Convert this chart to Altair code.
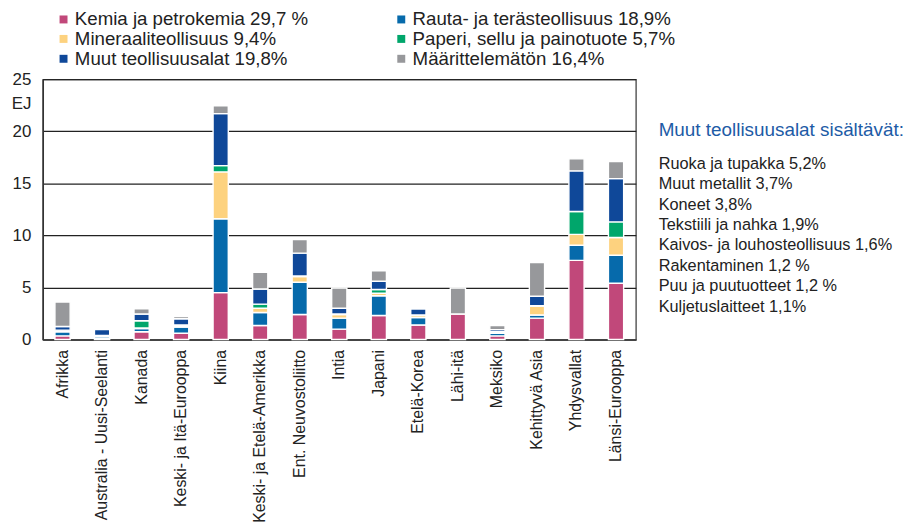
import altair as alt
import pandas as pd

regions = ["Afrikka", "Australia - Uusi-Seelanti", "Kanada", "Keski- ja Itä-Eurooppa",
           "Kiina", "Keski- ja Etelä-Amerikka", "Ent. Neuvostoliitto", "Intia", "Japani",
           "Etelä-Korea", "Lähi-itä", "Meksiko", "Kehittyvä Asia", "Yhdysvallat", "Länsi-Eurooppa"]

series = ["Kemia ja petrokemia 29,7 %", "Rauta- ja terästeollisuus 18,9%",
          "Mineraaliteollisuus 9,4%", "Paperi, sellu ja painotuote 5,7%",
          "Muut teollisuusalat 19,8%", "Määrittelemätön 16,4%"]

colors = ["#c1487a", "#066aab", "#fdd27f", "#00a66b", "#0f4899", "#97989b"]

kemia      = [0.35, 0.15, 0.75, 0.6, 4.5, 1.35, 2.4, 1.0, 2.3, 1.4, 2.45, 0.35, 2.05, 7.6, 5.4]
rauta      = [0.40, 0.15, 0.30, 0.6, 7.1, 1.25, 3.1, 1.05, 1.9, 0.7, 0.0, 0.25, 0.30, 1.45, 2.7]
mineraali  = [0.10, 0.05, 0.05, 0.15, 4.5, 0.40, 0.55, 0.35, 0.25, 0.2, 0.0, 0.10, 0.85, 1.05, 1.7]
paperi     = [0.05, 0.05, 0.70, 0.05, 0.6, 0.40, 0.05, 0.05, 0.35, 0.05, 0.0, 0.05, 0.05, 2.2, 1.5]
muut       = [0.35, 0.55, 0.65, 0.6, 5.0, 1.45, 2.2, 0.55, 0.8, 0.6, 0.0, 0.20, 0.90, 3.9, 4.15]
maarittelematon = [2.35, 0.0, 0.5, 0.2, 0.75, 1.6, 1.3, 1.95, 1.0, 0.05, 2.5, 0.40, 3.25, 1.15, 1.65]

panel_title = "Muut teollisuusalat sisältävät:"
panel_items = ["Ruoka ja tupakka 5,2%", "Muut metallit 3,7%", "Koneet 3,8%",
               "Tekstiili ja nahka 1,9%", "Kaivos- ja louhosteollisuus 1,6%",
               "Rakentaminen 1,2 %", "Puu ja puutuotteet 1,2 %", "Kuljetuslaitteet 1,1%"]

FONT = "Liberation Sans"

rows = []
for si, (s, vals) in enumerate(zip(series, [kemia, rauta, mineraali, paperi, muut, maarittelematon])):
    for r, v in zip(regions, vals):
        if v > 0:
            rows.append({"region": r, "series": s, "idx": si, "value": v})
df = pd.DataFrame(rows)

# legend fills column by column: order domain so the rows read pairwise as in the reference
legend_order = [0, 2, 4, 1, 3, 5]
dom = [series[i] for i in legend_order]
rng = [colors[i] for i in legend_order]

bars = alt.Chart(df).mark_bar(stroke="white", strokeWidth=1.4).encode(
    x=alt.X("region:N", sort=regions,
            scale=alt.Scale(paddingInner=0.615, paddingOuter=0.3075),
            axis=alt.Axis(title=None, labelAngle=-90, labelFontSize=16, labelFont=FONT,
                          labelColor="#222", labelPadding=10, ticks=False,
                          domainColor="#444", domainWidth=2, labelLimit=400)),
    y=alt.Y("value:Q", stack="zero",
            scale=alt.Scale(domain=[0, 25], nice=False),
            axis=alt.Axis(title="EJ", titleAngle=0, titleAlign="right", titleX=-12, titleY=24,
                          titleBaseline="middle", titleFontSize=17, titleFontWeight="normal",
                          titleFont=FONT, titleColor="#222",
                          values=[0, 5, 10, 15, 20, 25], labelFontSize=17, labelFont=FONT,
                          labelColor="#222", labelPadding=12, ticks=False,
                          grid=True, gridColor="#222", gridWidth=1.2,
                          domainColor="#333", domainWidth=1.5)),
    color=alt.Color("series:N", scale=alt.Scale(domain=dom, range=rng),
                    legend=alt.Legend(title=None, orient="none", legendX=11.5, legendY=-70,
                                      columns=2, columnPadding=84, rowPadding=0,
                                      symbolType="square", symbolSize=64, symbolStrokeWidth=0,
                                      labelFontSize=18.8, labelFont=FONT, labelColor="#222",
                                      labelOffset=2, labelLimit=400, padding=0)),
    order=alt.Order("idx:Q", sort="ascending"),
)

one = pd.DataFrame({"a": [0]})
title_txt = alt.Chart(one).mark_text(align="left", baseline="middle", fontSize=19,
                                     font=FONT, color="#1d5ba6").encode(
    x=alt.value(620), y=alt.value(51), text=alt.value(panel_title))
items_txt = alt.Chart(one).mark_text(align="left", baseline="top", fontSize=16.4,
                                     font=FONT, color="#222", lineHeight=20.6).encode(
    x=alt.value(620), y=alt.value(77), text=alt.value(panel_items))

chart = alt.layer(bars, title_txt, items_txt).properties(
    width=597, height=262,
    padding={"left": 3, "top": 0, "right": 0, "bottom": 0},
).configure_view(stroke="#333", strokeWidth=1.2)

chart.save("out.html", embed_options={"renderer": "svg", "actions": False})
